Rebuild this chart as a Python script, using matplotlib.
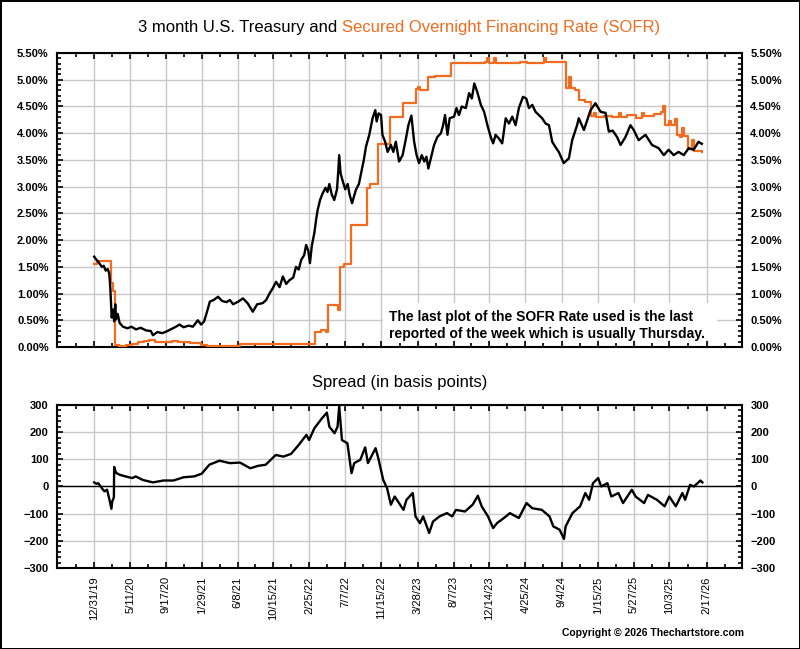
import matplotlib
matplotlib.use("Agg")
import matplotlib.pyplot as plt
import matplotlib.dates as mdates
from matplotlib.ticker import MultipleLocator, FuncFormatter, FixedLocator
from matplotlib.patches import Rectangle
import pandas as pd

plt.rcParams['font.family'] = ['Liberation Sans', 'DejaVu Sans']

# 3 month treasury, percent
tsy_dates = [
    "2019-12-31", "2020-01-07", "2020-01-14", "2020-01-21", "2020-01-28", "2020-02-04",
    "2020-02-11", "2020-02-18", "2020-02-24", "2020-02-28", "2020-03-04", "2020-03-09",
    "2020-03-13", "2020-03-17", "2020-03-20", "2020-03-26", "2020-04-02", "2020-04-14",
    "2020-05-01", "2020-05-15", "2020-06-01", "2020-06-18", "2020-07-08", "2020-07-25",
    "2020-08-02", "2020-08-18", "2020-09-05", "2020-09-20", "2020-10-10", "2020-10-25",
    "2020-11-07", "2020-11-22", "2020-12-10", "2020-12-26", "2021-01-13", "2021-01-25",
    "2021-02-05", "2021-02-15", "2021-02-26", "2021-03-12", "2021-03-28", "2021-04-12",
    "2021-04-28", "2021-05-10", "2021-05-22", "2021-06-10", "2021-06-27", "2021-07-14",
    "2021-08-02", "2021-08-18", "2021-09-07", "2021-09-20", "2021-10-02", "2021-10-14",
    "2021-10-26", "2021-11-08", "2021-11-20", "2021-12-02", "2021-12-14", "2021-12-28",
    "2022-01-07", "2022-01-17", "2022-01-26", "2022-02-06", "2022-02-13", "2022-02-21",
    "2022-02-27", "2022-03-06", "2022-03-15", "2022-03-22", "2022-03-27", "2022-04-05",
    "2022-04-14", "2022-04-25", "2022-05-02", "2022-05-09", "2022-05-18", "2022-05-27",
    "2022-06-06", "2022-06-10", "2022-06-14", "2022-06-19", "2022-06-26", "2022-07-06",
    "2022-07-15", "2022-07-22", "2022-07-31", "2022-08-14", "2022-08-25", "2022-09-02",
    "2022-09-12", "2022-09-20", "2022-10-02", "2022-10-14", "2022-10-24", "2022-10-29",
    "2022-11-05", "2022-11-14", "2022-11-19", "2022-11-29", "2022-12-08", "2022-12-20",
    "2022-12-29", "2023-01-07", "2023-01-19", "2023-02-01", "2023-02-13", "2023-02-22",
    "2023-03-05", "2023-03-15", "2023-03-24", "2023-04-02", "2023-04-12", "2023-04-21",
    "2023-04-29", "2023-05-06", "2023-05-15", "2023-05-27", "2023-06-08", "2023-06-21",
    "2023-06-29", "2023-07-06", "2023-07-15", "2023-07-23", "2023-08-08", "2023-08-17",
    "2023-08-26", "2023-09-05", "2023-09-20", "2023-10-02", "2023-10-12", "2023-10-21",
    "2023-11-01", "2023-11-14", "2023-11-26", "2023-12-08", "2023-12-20", "2023-12-29",
    "2024-01-07", "2024-01-19", "2024-01-31", "2024-02-13", "2024-02-25", "2024-03-08",
    "2024-03-20", "2024-04-01", "2024-04-16", "2024-04-28", "2024-05-08", "2024-05-20",
    "2024-06-01", "2024-06-13", "2024-06-25", "2024-07-08", "2024-07-20", "2024-08-01",
    "2024-08-13", "2024-08-25", "2024-09-12", "2024-10-01", "2024-10-13", "2024-10-31",
    "2024-11-06", "2024-11-25", "2024-12-19", "2025-01-06", "2025-01-25",
    "2025-02-12", "2025-02-24", "2025-03-10", "2025-03-26", "2025-04-08", "2025-04-26",
    "2025-05-14", "2025-05-26", "2025-06-13", "2025-07-08", "2025-08-01", "2025-08-25",
    "2025-09-13", "2025-10-01", "2025-10-19", "2025-11-06", "2025-11-25", "2025-12-13",
    "2025-12-31", "2026-01-18", "2026-01-30",
]
tsy_vals = [
    1.69, 1.64, 1.60, 1.55, 1.50, 1.52,
    1.43, 1.46, 1.38, 1.10, 0.55, 0.70,
    0.48, 0.80, 0.52, 0.62, 0.45, 0.38,
    0.35, 0.38, 0.33, 0.36, 0.31, 0.30,
    0.22, 0.28, 0.26, 0.29, 0.34, 0.38,
    0.42, 0.37, 0.40, 0.38, 0.50, 0.42,
    0.48, 0.65, 0.85, 0.88, 0.94, 0.86,
    0.84, 0.88, 0.80, 0.85, 0.91, 0.82,
    0.66, 0.80, 0.82, 0.88, 1.00, 1.10,
    1.22, 1.12, 1.32, 1.18, 1.25, 1.30,
    1.50, 1.45, 1.63, 1.72, 1.91, 1.80,
    1.57, 1.90, 2.13, 2.40, 2.56, 2.75,
    2.87, 2.98, 2.90, 3.05, 2.85, 2.75,
    2.95, 3.25, 3.59, 3.25, 3.12, 2.95,
    3.05, 2.85, 2.69, 2.94, 3.05, 3.25,
    3.50, 3.75, 3.97, 4.28, 4.43, 4.22,
    4.37, 4.34, 3.97, 3.84, 3.65, 3.78,
    3.65, 3.84, 3.47, 3.59, 3.90, 4.15,
    4.33, 3.84, 3.59, 3.44, 3.59, 3.47,
    3.56, 3.34, 3.53, 3.78, 3.93, 4.00,
    4.15, 4.34, 3.97, 4.28, 4.31, 4.47,
    4.34, 4.50, 4.47, 4.75, 4.65, 4.93,
    4.77, 4.53, 4.40, 4.15, 3.93, 3.81,
    3.97, 3.90, 3.81, 4.28, 4.18, 4.31,
    4.15, 4.47, 4.68, 4.65, 4.47, 4.53,
    4.40, 4.34, 4.28, 4.18, 4.15, 3.84,
    3.74, 3.65, 3.44, 3.53, 3.87, 4.15,
    4.28, 4.06, 4.43, 4.56, 4.40,
    4.38, 4.03, 4.05, 3.93, 3.78, 3.93,
    4.15, 4.06, 3.87, 3.97, 3.78, 3.72,
    3.59, 3.69, 3.59, 3.65, 3.59, 3.72,
    3.69, 3.84, 3.80,
]

# SOFR, weekly, percent
sofr_dates = [
    "2019-12-31", "2020-01-09", "2020-03-02", "2020-03-09", "2020-03-16", "2020-03-30",
    "2020-04-27", "2020-05-18", "2020-06-08", "2020-06-29", "2020-07-20", "2020-08-10",
    "2020-08-31", "2020-09-21", "2020-10-12", "2020-11-02", "2020-11-23", "2020-12-14",
    "2021-01-04", "2021-01-25", "2021-02-15", "2021-03-08", "2021-06-17", "2022-03-17",
    "2022-04-07", "2022-04-28", "2022-05-05", "2022-06-02", "2022-06-09", "2022-06-16",
    "2022-06-30", "2022-07-28", "2022-08-25", "2022-09-22", "2022-10-06", "2022-11-03",
    "2022-12-15", "2023-02-02", "2023-03-23", "2023-03-30", "2023-04-06", "2023-05-04",
    "2023-06-01", "2023-07-27", "2023-09-14", "2023-10-05", "2023-11-30", "2023-12-07",
    "2023-12-14", "2024-01-02", "2024-01-09", "2024-04-04", "2024-05-02", "2024-07-02",
    "2024-07-09", "2024-08-15", "2024-09-19", "2024-10-01", "2024-10-08", "2024-10-24",
    "2024-11-07", "2024-11-28", "2024-12-19", "2025-01-02", "2025-01-09", "2025-02-06",
    "2025-03-06", "2025-04-03", "2025-04-10", "2025-05-01", "2025-06-05", "2025-06-26",
    "2025-07-03", "2025-08-07", "2025-09-04", "2025-09-11", "2025-09-18", "2025-10-02",
    "2025-10-09", "2025-10-23", "2025-10-30", "2025-11-13", "2025-11-20", "2025-11-27",
    "2025-12-11", "2025-12-25", "2026-01-01", "2026-01-30",
]
sofr_vals = [
    1.55, 1.60, 1.20, 1.05, 0.04, 0.01,
    0.03, 0.06, 0.09, 0.11, 0.13, 0.10,
    0.09, 0.10, 0.11, 0.09, 0.10, 0.08,
    0.07, 0.04, 0.02, 0.01, 0.05, 0.29,
    0.31, 0.28, 0.79, 0.78, 0.70, 1.50,
    1.55, 2.28, 2.29, 2.98, 3.05, 3.80,
    4.31, 4.56, 4.82, 4.87, 4.80, 5.05,
    5.07, 5.31, 5.32, 5.31, 5.34, 5.40,
    5.32, 5.40, 5.31, 5.33, 5.31, 5.40,
    5.34, 5.33, 4.84, 5.05, 4.84, 4.81,
    4.62, 4.59, 4.33, 4.38, 4.31, 4.33,
    4.30, 4.37, 4.30, 4.34, 4.29, 4.38,
    4.32, 4.35, 4.40, 4.50, 4.16, 4.22,
    4.15, 4.27, 3.97, 3.93, 4.10, 3.95,
    3.70, 3.87, 3.66, 3.64,
]

# spread, basis points
spread_dates = [
    "2019-12-31", "2020-01-08", "2020-01-15", "2020-01-28", "2020-02-06", "2020-02-16",
    "2020-02-25", "2020-03-03", "2020-03-06", "2020-03-12", "2020-03-13", "2020-03-20",
    "2020-04-03", "2020-04-20", "2020-05-18", "2020-05-31", "2020-06-26", "2020-08-02",
    "2020-09-09", "2020-10-16", "2020-11-22", "2020-12-30", "2021-01-27", "2021-02-24",
    "2021-04-02", "2021-05-10", "2021-06-16", "2021-07-24", "2021-08-21", "2021-09-18",
    "2021-10-25", "2021-11-22", "2021-12-20", "2022-01-17", "2022-02-14", "2022-02-24",
    "2022-03-15", "2022-04-12", "2022-04-30", "2022-05-09", "2022-05-28", "2022-06-08",
    "2022-06-14", "2022-06-24", "2022-07-14", "2022-07-29", "2022-08-08", "2022-08-30",
    "2022-09-17", "2022-09-27", "2022-10-25", "2022-11-04", "2022-11-22", "2022-12-06",
    "2022-12-20", "2023-01-03", "2023-02-04", "2023-02-15", "2023-03-10", "2023-03-20",
    "2023-04-05", "2023-04-17", "2023-05-09", "2023-05-23", "2023-06-16", "2023-07-13",
    "2023-08-01", "2023-08-15", "2023-09-17", "2023-10-15", "2023-11-03", "2023-11-17",
    "2023-12-10", "2023-12-29", "2024-01-12", "2024-02-14", "2024-02-28", "2024-04-01",
    "2024-04-29", "2024-05-20", "2024-06-24", "2024-07-22", "2024-08-05", "2024-08-28",
    "2024-09-13", "2024-09-19", "2024-10-14", "2024-11-11", "2024-11-30", "2024-12-14",
    "2024-12-28", "2025-01-16", "2025-01-27", "2025-02-19", "2025-03-05", "2025-03-31",
    "2025-04-17", "2025-05-19", "2025-06-02", "2025-07-03", "2025-07-17", "2025-08-19",
    "2025-09-16", "2025-10-03", "2025-10-27", "2025-11-20", "2025-11-30", "2025-12-18",
    "2026-01-01", "2026-01-25", "2026-02-01",
]
spread_vals = [
    15, 10, 12, -6, -18, -12,
    -49, -82, -55, -40, 72, 50,
    43, 38, 31, 37, 24, 15,
    22, 22, 34, 37, 47, 80,
    95, 86, 88, 67, 76, 80,
    116, 110, 120, 153, 190, 171,
    214, 251, 272, 220, 196, 220,
    296, 171, 159, 49, 86, 98,
    144, 86, 141, 104, 24, -6,
    -67, -37, -86, -49, -24, -110,
    -135, -110, -171, -129, -110, -98,
    -110, -86, -92, -67, -34, -73,
    -110, -153, -135, -110, -98, -116,
    -61, -80, -86, -110, -147, -159,
    -193, -147, -98, -73, -24, -49,
    12, 31, 0, 12, -37, -24,
    -61, -12, -37, -61, -31, -49,
    -73, -37, -73, -24, -49, 6,
    0, 22, 15,
]

tick_labels = ["12/31/19", "5/11/20", "9/17/20", "1/29/21", "6/8/21", "10/15/21",
               "2/25/22", "7/7/22", "11/15/22", "3/28/23", "8/7/23", "12/14/23",
               "4/25/24", "9/4/24", "1/15/25", "5/27/25", "10/3/25", "2/17/26"]

orange = '#F26B1F'
tick_dates = pd.to_datetime(tick_labels, format="%m/%d/%y")
major = mdates.date2num(tick_dates)
minor = [(a + b) / 2 for a, b in zip(major[:-1], major[1:])]
minor = [major[0] - (major[1] - major[0]) / 2] + minor + [major[-1] + (major[-1] - major[-2]) / 2]
xlim = (mdates.date2num(pd.Timestamp("2019-08-17")), mdates.date2num(pd.Timestamp("2026-06-26")))

fig = plt.figure(figsize=(8, 6.49), dpi=100)
fig.patch.set_edgecolor('black')
fig.patch.set_linewidth(2)

ax1 = fig.add_axes([0.07125, 0.4653, 0.85625, 0.453])
ax2 = fig.add_axes([0.07125, 0.1248, 0.85625, 0.2512])


def style(ax):
    ax.set_xlim(*xlim)
    ax.xaxis.set_major_locator(FixedLocator(major))
    ax.xaxis.set_minor_locator(FixedLocator(minor))
    ax.grid(True, which='major', color='#c8c8c8', lw=1)
    ax.set_axisbelow(True)
    for s in ax.spines.values():
        s.set_linewidth(1.5)
    ax.tick_params(which='both', direction='in', top=True, right=True,
                   labelright=True, width=1.2)
    ax.tick_params(which='major', length=4)
    ax.tick_params(which='minor', length=3)
    ax.tick_params(axis='y', pad=6)
    for lab in ax.get_yticklabels():
        lab.set_fontweight('bold')


ax1.plot(pd.to_datetime(sofr_dates), sofr_vals, color=orange, lw=1.6, drawstyle='steps-post', zorder=3)
ax1.plot(pd.to_datetime(tsy_dates), tsy_vals, color='black', lw=1.7, zorder=4)
ax1.set_ylim(0, 5.5)
ax1.yaxis.set_major_locator(MultipleLocator(0.5))
ax1.yaxis.set_minor_locator(MultipleLocator(0.1))
ax1.yaxis.set_major_formatter(FuncFormatter(lambda v, p: f"{v:.2f}%"))
ax1.tick_params(axis='y', labelsize=8)
ax1.tick_params(axis='x', labelbottom=False)
style(ax1)

# white panel behind the note hides the grid
ax1.add_patch(Rectangle((0.476, 0.024), 0.488, 0.126, transform=ax1.transAxes,
                        facecolor='white', edgecolor='none', zorder=1))
ax1.text(0.484, 0.127, "The last plot of the SOFR Rate used is the last\n"
         "reported of the week which is usually Thursday.",
         transform=ax1.transAxes, ha='left', va='top', fontsize=10,
         fontweight='bold', linespacing=1.3, zorder=5)

ax2.plot(pd.to_datetime(spread_dates), spread_vals, color='black', lw=1.7, zorder=4)
ax2.axhline(0, color='black', lw=1, zorder=3)
ax2.set_ylim(-300, 300)
ax2.yaxis.set_major_locator(MultipleLocator(100))
ax2.yaxis.set_minor_locator(MultipleLocator(20))
ax2.tick_params(axis='y', labelsize=8)
ax2.set_xticklabels(tick_labels, rotation=90, fontsize=8)
ax2.tick_params(axis='x', pad=6)
style(ax2)

fig.text(0.427, 0.958, "3 month U.S. Treasury and ", ha='right', va='center', fontsize=12)
fig.text(0.427, 0.958, "Secured Overnight Financing Rate (SOFR)", ha='left', va='center',
         fontsize=12, color=orange)
fig.text(0.5, 0.41, "Spread (in basis points)", ha='center', va='center', fontsize=12)
fig.text(0.93, 0.024, "Copyright \u00a9 2026 Thechartstore.com", ha='right', va='center',
         fontsize=7.5, fontweight='bold')

fig.savefig("out.png", dpi=100, edgecolor=fig.get_edgecolor())
